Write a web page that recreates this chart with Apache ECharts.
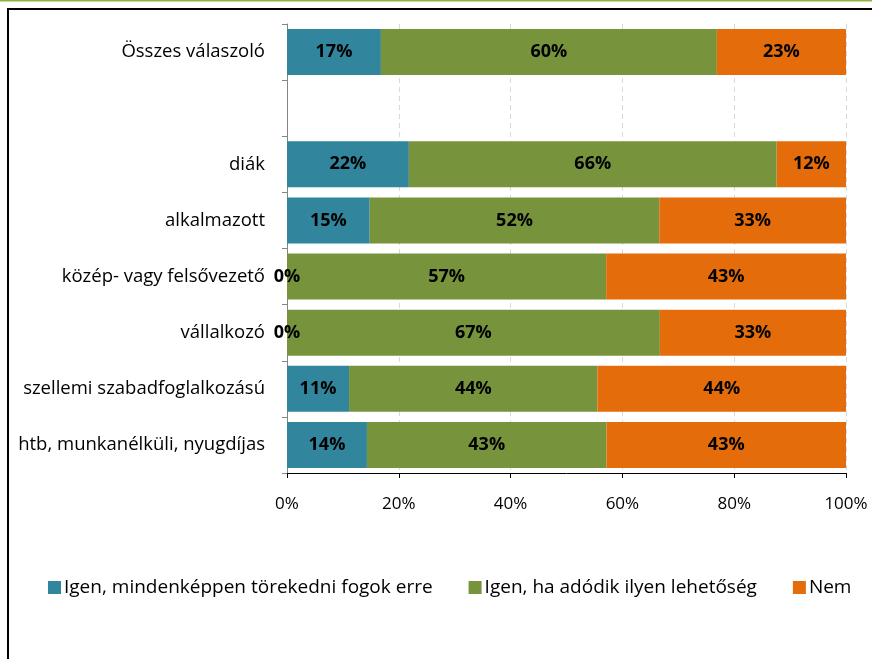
<!DOCTYPE html>
<html>
<head>
<meta charset="utf-8">
<script src="https://cdn.jsdelivr.net/npm/echarts@6/dist/echarts.min.js"></script>
<style>
  html, body { margin: 0; padding: 0; background: #fff; }
  #chart { width: 872px; height: 659px; }
</style>
</head>
<body>
<div id="chart"></div>
<script>
// categories, top to bottom (empty row = gap)
const categories = [
  'Összes válaszoló',
  '',
  'diák',
  'alkalmazott',
  'közép- vagy felsővezető',
  'vállalkozó',
  'szellemi szabadfoglalkozású',
  'htb, munkanélküli, nyugdíjas'
];
const seriesNames = [
  'Igen, mindenképpen törekedni fogok erre',
  'Igen, ha adódik ilyen lehetőség',
  'Nem'
];
// percent shares
const igenMindenkeppen = [16.8, null, 21.8, 14.8, 0, 0, 11.1, 14.3];
const igenHaAdodik     = [60.1, null, 65.8, 51.8, 57.1, 66.7, 44.45, 42.85];
const nem              = [23.1, null, 12.4, 33.4, 42.9, 33.3, 44.45, 42.85];
const xTicks = [0, 20, 40, 60, 80, 100];

const colors = ['#31859C', '#77933C', '#E46C0A'];
const font = '"Open Sans", Lato, sans-serif';

let chart = echarts.init(document.getElementById('chart'));

function makeSeries(name, data, color) {
  return {
    name: name,
    type: 'bar',
    stack: 'total',
    barCategoryGap: '18%',
    data: data,
    itemStyle: { color: color },
    label: {
      show: true,
      position: 'inside',
      formatter: p => p.value == null ? '' : Math.round(p.value) + '%',
      color: '#000',
      fontFamily: font,
      fontWeight: 'bold',
      fontSize: 18
    }
  };
}

chart.setOption({
  animation: false,
  color: colors,
  grid: { left: 287, right: 26, top: 24, bottom: 186, containLabel: false },
  legend: {
    bottom: 57,
    left: 43,
    itemWidth: 13,
    itemHeight: 13,
    itemGap: 36,
    icon: 'rect',
    textStyle: { fontFamily: font, fontSize: 19, color: '#000', padding: [0, 0, 0, -2] },
    data: seriesNames
  },
  xAxis: {
    type: 'value',
    min: 0,
    max: 100,
    interval: 20,
    axisLine: { show: true, lineStyle: { color: '#000', width: 1 } },
    axisTick: { show: true, length: 5, lineStyle: { color: '#000' } },
    axisLabel: {
      formatter: v => xTicks.indexOf(v) >= 0 ? v + '%' : '',
      fontFamily: font, fontSize: 17, color: '#000', margin: 23
    },
    splitLine: { show: true, lineStyle: { color: '#d9d9d9', type: [5, 4] } }
  },
  yAxis: {
    type: 'category',
    inverse: true,
    data: categories,
    axisLine: { show: true, lineStyle: { color: '#868686' } },
    axisTick: { show: true, length: 5, lineStyle: { color: '#868686' } },
    axisLabel: { fontFamily: font, fontSize: 18.5, color: '#000', margin: 22 }
  },
  graphic: [
    { type: 'line', shape: { x1: 0, y1: 0.5, x2: 872, y2: 0.5 }, style: { stroke: '#8DB53F', lineWidth: 2 } },
    { type: 'line', shape: { x1: 7, y1: 9, x2: 872, y2: 9 }, style: { stroke: '#000', lineWidth: 2 } },
    { type: 'line', shape: { x1: 8, y1: 8, x2: 8, y2: 659 }, style: { stroke: '#000', lineWidth: 2 } }
  ],
  series: [
    makeSeries(seriesNames[0], igenMindenkeppen, colors[0]),
    makeSeries(seriesNames[1], igenHaAdodik, colors[1]),
    makeSeries(seriesNames[2], nem, colors[2])
  ]
});
</script>
</body>
</html>
